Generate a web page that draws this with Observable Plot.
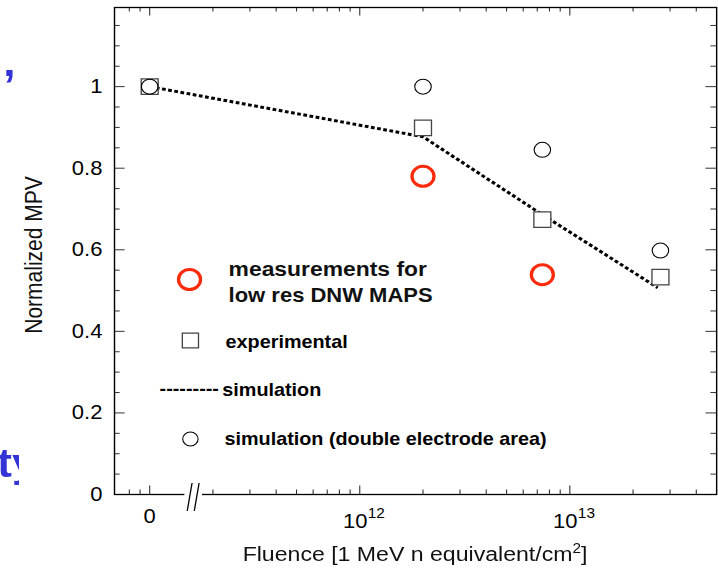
<!DOCTYPE html>
<html><head><meta charset="utf-8">
<script src="https://cdn.jsdelivr.net/npm/d3@7"></script>
<script src="https://cdn.jsdelivr.net/npm/@observablehq/plot@0.6"></script>
<style>
html,body{margin:0;padding:0;background:#fff;overflow:hidden;}
#wrap{transform:scaleX(1.1);transform-origin:0 0;width:653px;}
</style></head><body><div id="wrap"></div>
<script>
// ---- data ----
const fluence = [0, 2.0e12, 7.4e12, 2.7e13];          // experimental & double-area simulation
const experimental = [1.0, 0.899, 0.674, 0.533];
const simDouble = [1.0, 1.0, 0.845, 0.598];
const measFluence = [2.0e12, 7.4e12];
const measured = [0.780, 0.539];
const simFluence = [0, 2.0e12, 7.4e12, 2.62e13];
const simulation = [1.0, 0.877, 0.686, 0.507];

const yTicks = [0, 0.2, 0.4, 0.6, 0.8, 1];
const xTickValues = [0, 1e12, 1e13];
const xTickBase = ["0", "10", "10"];
const xTickExp = ["", "12", "13"];
const xMinor = [8e10, 9e10,
  2e11, 3e11, 4e11, 5e11, 6e11, 7e11, 8e11, 9e11,
  2e12, 3e12, 4e12, 5e12, 6e12, 7e12, 8e12, 9e12,
  2e13, 3e13, 4e13];
const yMinor = d3.range(1, 24).map(i => +(i * 0.05).toFixed(2)).filter(v => Math.round(v * 100) % 20 !== 0);

const legendMeas = ["measurements for", "low res DNW MAPS"];
const xLabel = "Fluence [1 MeV n equivalent/cm";
const yLabel = "Normalized MPV";

// broken axis: fluence 0 is drawn at this log position
const ZERO_AT = 1e11;
const BREAK_AT = 1.62e11;
const pos = f => f === 0 ? ZERO_AT : f;

const expTable = fluence.map((f, i) => ({f, v: experimental[i]}));
const dblTable = fluence.map((f, i) => ({f, v: simDouble[i]}));
const measTable = measFluence.map((f, i) => ({f, v: measured[i]}));
const simTable = simFluence.map((f, i) => ({f, v: simulation[i]}));
const xTickTable = xTickValues.map((v, i) => ({v, base: xTickBase[i], exp: xTickExp[i]}));

// ---- layout ----
const W = 653, H = 568;
const mL = 103.6, mR = 2, mT = 7, mB = 74;
const innerW = W - mL - mR, innerH = H - mT - mB;
const font = "'Liberation Sans', Arial, Helvetica, sans-serif";
const RED = "#fb2b0c";
const TICK = "#333";

const plot = Plot.plot({
  width: W, height: H,
  marginLeft: mL, marginRight: mR, marginTop: mT, marginBottom: mB,
  style: {fontFamily: font, fontSize: "20px", background: "white", color: "black", overflow: "visible"},
  x: {type: "log", domain: [6.8e10, 5e13], axis: null},
  y: {domain: [0, 1.194], axis: null},
  marks: [
    // ticks, pointing inward, on all four sides
    Plot.tickX(xMinor, {x: d => d, insetTop: innerH - 4.5, stroke: TICK}),
    Plot.tickX(xTickValues, {x: d => pos(d), insetTop: innerH - 8.5, stroke: TICK}),
    Plot.tickX(xMinor, {x: d => d, insetBottom: innerH - 4.5, stroke: TICK}),
    Plot.tickX(xTickValues, {x: d => pos(d), insetBottom: innerH - 8.5, stroke: TICK}),
    Plot.tickY(yMinor, {y: d => d, insetRight: innerW - 5.2, stroke: TICK}),
    Plot.tickY(yTicks, {y: d => d, insetRight: innerW - 9.7, stroke: TICK}),
    Plot.tickY(yMinor, {y: d => d, insetLeft: innerW - 5.2, stroke: TICK}),
    Plot.tickY(yTicks, {y: d => d, insetLeft: innerW - 9.7, stroke: TICK}),
    Plot.frame({stroke: "black", strokeWidth: 1.3}),
    Plot.axisY({ticks: yTicks, anchor: "left", tickSize: 0, tickPadding: 11,
      tickFormat: d => String(+d.toFixed(2)), fontSize: 20, label: null}),
    // x tick labels
    Plot.text(xTickTable.filter(d => d.exp === ""), {x: d => pos(d.v), text: "base",
      frameAnchor: "bottom", lineAnchor: "bottom", dy: 28, fontSize: 20}),
    Plot.text(xTickTable.filter(d => d.exp !== ""), {x: d => pos(d.v), text: "base",
      frameAnchor: "bottom", lineAnchor: "bottom", textAnchor: "end", dx: 7, dy: 33, fontSize: 20}),
    Plot.text(xTickTable.filter(d => d.exp !== ""), {x: d => pos(d.v), text: "exp",
      frameAnchor: "bottom", lineAnchor: "bottom", textAnchor: "start", dx: 7.3, dy: 23, fontSize: 14}),
    // data
    Plot.line(simTable, {x: d => pos(d.f), y: "v", stroke: "black", strokeWidth: 3,
      strokeDasharray: "3.4,2.3", strokeLinecap: "butt", strokeLinejoin: "miter"}),
    Plot.dot(expTable, {x: d => pos(d.f), y: "v", symbol: "square", r: 8.7, stroke: "#444", strokeWidth: 1.2, fill: "white"}),
    Plot.dot(dblTable, {x: d => pos(d.f), y: "v", r: 7.5, stroke: "black", strokeWidth: 1, fill: "none"}),
    Plot.dot(measTable, {x: d => pos(d.f), y: "v", r: 10, stroke: RED, strokeWidth: 3, fill: "none"}),
    // legend
    Plot.dot([0], {frameAnchor: "top-left", dx: 68.2, dy: 272, r: 10, stroke: RED, strokeWidth: 3, fill: "none"}),
    Plot.text([legendMeas[0]], {frameAnchor: "top-left", text: d => d, textAnchor: "start", lineAnchor: "bottom",
      dx: 103.7, dy: 268, fontSize: 20.8, fontWeight: "bold", fill: "#111"}),
    Plot.text([legendMeas[1]], {frameAnchor: "top-left", text: d => d, textAnchor: "start", lineAnchor: "bottom",
      dx: 103.7, dy: 294, fontSize: 20, fontWeight: "bold", fill: "#111"}),
    Plot.dot([0], {frameAnchor: "top-left", dx: 69, dy: 333, symbol: "square", r: 8.3, stroke: "#444", strokeWidth: 1.2, fill: "white"}),
    Plot.text(["experimental"], {frameAnchor: "top-left", text: d => d, textAnchor: "start", lineAnchor: "bottom",
      dx: 101, dy: 340, fontSize: 18, fontWeight: "bold"}),
    Plot.text(["---------"], {frameAnchor: "top-left", text: d => d, textAnchor: "start", lineAnchor: "bottom",
      dx: 41, dy: 387, fontSize: 18, fontWeight: "bold"}),
    Plot.text(["simulation"], {frameAnchor: "top-left", text: d => d, textAnchor: "start", lineAnchor: "bottom",
      dx: 98, dy: 388, fontSize: 18, fontWeight: "bold"}),
    Plot.dot([0], {frameAnchor: "top-left", dx: 69, dy: 431.5, r: 7, stroke: "black", strokeWidth: 1, fill: "none"}),
    Plot.text(["simulation (double electrode area)"], {frameAnchor: "top-left", text: d => d, textAnchor: "start", lineAnchor: "bottom",
      dx: 100, dy: 437, fontSize: 18, fontWeight: "bold"})
  ]
});

document.getElementById("wrap").appendChild(plot);

// ---- post-render: axis break, axis titles, slide fragments ----
const svg = d3.select(plot);
const sx = plot.scale("x");
const xb = sx.apply(BREAK_AT);
const yb = H - mB;
svg.append("rect").attr("x", xb - 8).attr("y", yb - 3).attr("width", 16).attr("height", 6).attr("fill", "white");
[-3.2, 3.2].forEach(o => {
  svg.append("line")
    .attr("x1", xb + o - 2.2).attr("y1", yb + 17)
    .attr("x2", xb + o + 2.2).attr("y2", yb - 11)
    .attr("stroke", "black").attr("stroke-width", 1.2);
});

const xl = svg.append("text")
  .attr("x", mL + innerW / 2).attr("y", 561.5)
  .attr("text-anchor", "middle").attr("font-family", font).attr("font-size", 21).attr("fill", "#111");
xl.append("tspan").text(xLabel);
xl.append("tspan").attr("dy", -8).attr("font-size", 14).text("2");
xl.append("tspan").attr("dy", 8).text("]");

svg.append("text")
  .attr("transform", `translate(37.9,${255}) rotate(-90)`)
  .attr("text-anchor", "middle").attr("font-family", font).attr("font-size", 21).attr("fill", "#111")
  .text(yLabel);

// fragments of blue slide text, hidden behind the chart's white background past x≈16
svg.append("clipPath").attr("id", "slideclip")
  .append("rect").attr("x", -10).attr("y", 0).attr("width", 26.4).attr("height", H);
const frag = svg.append("g").attr("clip-path", "url(#slideclip)");
frag.append("text").attr("x", -2.5).attr("y", 477).attr("text-anchor", "start").attr("font-family", font)
  .attr("font-weight", "bold").attr("font-size", 40).attr("fill", "#3434d6").text("ty");
frag.append("text").attr("x", 3).attr("y", 76).attr("text-anchor", "start").attr("font-family", font)
  .attr("font-weight", "bold").attr("font-size", 40).attr("fill", "#3434d6").text(",");
</script></body></html>
